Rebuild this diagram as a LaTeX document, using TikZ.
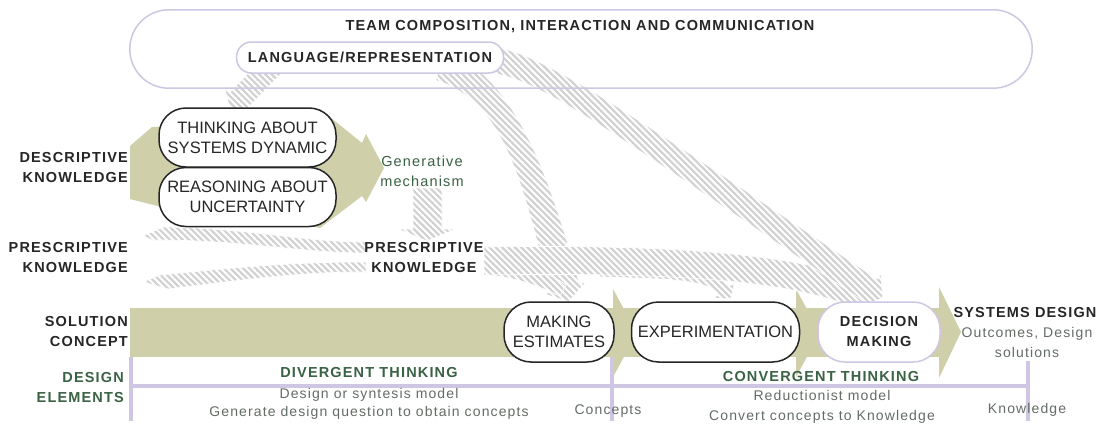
\documentclass[tikz,border=0pt]{standalone}
\usepackage{fontspec}
\setmainfont{Liberation Sans}
\newfontfamily\spaced{Liberation Sans}[LetterSpace=8]
\usetikzlibrary{patterns.meta}

\definecolor{bandolive}{RGB}{207,207,170}
\definecolor{lav}{RGB}{206,198,226}
\definecolor{hatchgray}{RGB}{210,210,210}
\definecolor{ink}{RGB}{38,38,38}
\definecolor{deepgreen}{RGB}{58,98,68}
\definecolor{softgray}{RGB}{100,108,102}

\begin{document}
\begin{tikzpicture}[x=1pt,y=-1pt,
  hatch/.style={preaction={fill=hatchgray},
    pattern={Lines[angle=-45,distance=4.5pt,line width=2pt]},
    pattern color=white, draw=white, line width=0.7},
  pillblack/.style={draw=ink, line width=1.5, fill=white, rounded corners=27,
    align=center, inner sep=0, font=\fontsize{16.5}{20}\selectfont, text=ink},
  pilllav/.style={draw=lav, line width=1.5, fill=white, align=center, inner sep=0},
  boldlab/.style={font=\spaced\bfseries\fontsize{14.5}{20}\selectfont, text=ink, inner sep=0},
  greenlab/.style={font=\spaced\bfseries\fontsize{14.5}{20}\selectfont, text=deepgreen, inner sep=0},
  greentxt/.style={font=\spaced\fontsize{14.5}{20}\selectfont, text=deepgreen, inner sep=0, align=center},
  graytxt/.style={font=\spaced\fontsize{14}{19}\selectfont, text=softgray, inner sep=0, align=center},
  guide/.style={draw=lav, line width=4},
]
\useasboundingbox (0,0) rectangle (1103,423);
\fill[white] (0,0) rectangle (1103,423);

% outer team container (filled first, outlined later)
\node[fill=white, rounded corners=39, minimum width=902, minimum height=78, inner sep=0] (team) at (581,49) {};

% olive flow: descriptive knowledge
\fill[bandolive] (130,146) -- (152,127) -- (250,122) -- (320,109) -- (362,143) -- (366,134)
  -- (384,168) -- (366,202) -- (362,196) -- (320,228) -- (250,214) -- (162,207) -- (130,199) -- cycle;

% olive flow: solution concept
\fill[bandolive] (130,308) rectangle (940,357);
\fill[bandolive] (613,289) -- (637,333) -- (613,377) -- cycle;
\fill[bandolive] (796,289) -- (820,333) -- (796,377) -- cycle;
\fill[bandolive] (939,287) -- (961,332) -- (939,378) -- cycle;

% hatched flows
% language -> thinking
\path[hatch] (263.4,57.6) -- (280.6,74.4) -- (247.0,108.8) -- (252.7,114.4) -- (230,109)
  -- (224.1,86.4) -- (229.8,92.0) -- cycle;
% generative mechanism -> prescriptive knowledge
\path[hatch] (413,188) -- (442,188) -- (442,229) -- (456,229) -- (427,241) -- (398,229) -- (413,229) -- cycle;
% left prescriptive inflows
\path[hatch] (143,236) -- (163,227) .. controls (250,228) and (300,242) .. (366,242)
  -- (366,253) .. controls (300,253) and (245,240) .. (152,240) -- cycle;
\path[hatch] (143,282) -- (160,275) .. controls (250,266) and (300,262) .. (366,262)
  -- (366,272) .. controls (300,272) and (250,279) .. (168,289) -- cycle;
% language -> making estimates
\path[hatch] (444.2,51.6) .. controls (519.2,73.6) and (554.4,195.9) .. (579.4,283.9)
  -- (586.2,282) -- (568.8,301.5) -- (543.8,294) -- (550.6,292.1)
  .. controls (525.6,204.1) and (510.8,102.4) .. (435.8,80.4) -- cycle;
% prescriptive -> making estimates
\path[hatch] (484,261) .. controls (522,263) and (550,273) .. (566,285)
  -- (560,296) .. controls (540,287) and (518,277) .. (484,275) -- cycle;
% prescriptive -> experimentation
\path[hatch] (600.2,263) .. controls (660.2,265) and (717.6,269.8) .. (729.6,285.8)
  -- (735.2,281.6) -- (730.6,298.8) -- (712.8,298.4) -- (718.4,294.2)
  .. controls (706.4,278.2) and (659.8,279) .. (599.8,277) -- cycle;
% prescriptive -> decision making
\path[hatch] (484,247) .. controls (680,244) and (795,255) .. (861,279.9)
  -- (863.8,272.4) -- (870,298.3) -- (848.2,313.6) -- (851,306.1)
  .. controls (785,281) and (680,272) .. (484,275) -- cycle;
% language -> decision making
\path[hatch] (493.6,47.1) .. controls (541.6,53.1) and (617.2,104.2) .. (877.2,279.2)
  -- (881.1,273.4) -- (882.5,298.3) -- (858.9,306.6) -- (862.8,300.8)
  .. controls (602.8,125.8) and (538.4,78.9) .. (490.4,72.9) -- cycle;

% team container outline
\draw[lav, line width=1.5, rounded corners=39] (team.north west) rectangle (team.south east);
\node[boldlab] (teamtitle) at (580,27) {TEAM COMPOSITION, INTERACTION AND COMMUNICATION};

% process pills
\node[pilllav, rounded corners=15, minimum width=267, minimum height=31,
  font=\spaced\bfseries\fontsize{14.5}{20}\selectfont, text=ink] (lang) at (370,57.5) {LANGUAGE/REPRESENTATION};
\node[pillblack, minimum width=177, minimum height=59] (think) at (247.5,137.5) {THINKING ABOUT\\SYSTEMS DYNAMIC};
\node[pillblack, minimum width=177, minimum height=59] (reason) at (247.5,197) {REASONING ABOUT\\UNCERTAINTY};
\node[pillblack, minimum width=110, minimum height=60] (estim) at (559,332) {MAKING\\ESTIMATES};
\node[pillblack, minimum width=168, minimum height=60] (exper) at (715.5,332) {EXPERIMENTATION};
\node[pilllav, rounded corners=27, minimum width=122, minimum height=60,
  font=\spaced\bfseries\fontsize{14.5}{20}\selectfont, text=ink] (decide) at (879,332) {DECISION\\MAKING};

% design elements guide lines
\draw[guide] (131,357) -- (131,421);
\draw[guide] (131,386) -- (1028,386);
\draw[guide] (612,357) -- (612,421);
\draw[guide] (1028,361) -- (1028,421);

% labels
\node[boldlab, align=right, anchor=east] (desc) at (128,167.5) {DESCRIPTIVE\\KNOWLEDGE};
\node[boldlab, align=right, anchor=east] (presL) at (128,258) {PRESCRIPTIVE\\KNOWLEDGE};
\node[boldlab, align=center] (presM) at (424,258) {PRESCRIPTIVE\\KNOWLEDGE};
\node[boldlab, align=right, anchor=east] (sol) at (128,332) {SOLUTION\\CONCEPT};
\node[greenlab, align=right, anchor=east] (elem) at (124,388) {DESIGN\\ELEMENTS};
\node[greentxt] (gen) at (422,171) {Generative\\mechanism};
\node[boldlab] (sysd) at (1025,313) {SYSTEMS DESIGN};
\node[graytxt, font=\spaced\fontsize{14}{20}\selectfont] (outc) at (1027,342) {Outcomes, Design\\solutions};
\node[greenlab] (div) at (369,373) {DIVERGENT THINKING};
\node[graytxt, font=\spaced\fontsize{14}{18}\selectfont] (divtxt) at (369,404) {Design or syntesis model\\Generate design question to obtain concepts};
\node[greenlab] (conv) at (821,377) {CONVERGENT THINKING};
\node[graytxt, font=\spaced\fontsize{14}{20}\selectfont] (convtxt) at (822,407) {Reductionist model\\Convert concepts to Knowledge};
\node[graytxt] (concepts) at (608,411) {Concepts};
\node[graytxt] (knowl) at (1027,410) {Knowledge};
\end{tikzpicture}
\end{document}
